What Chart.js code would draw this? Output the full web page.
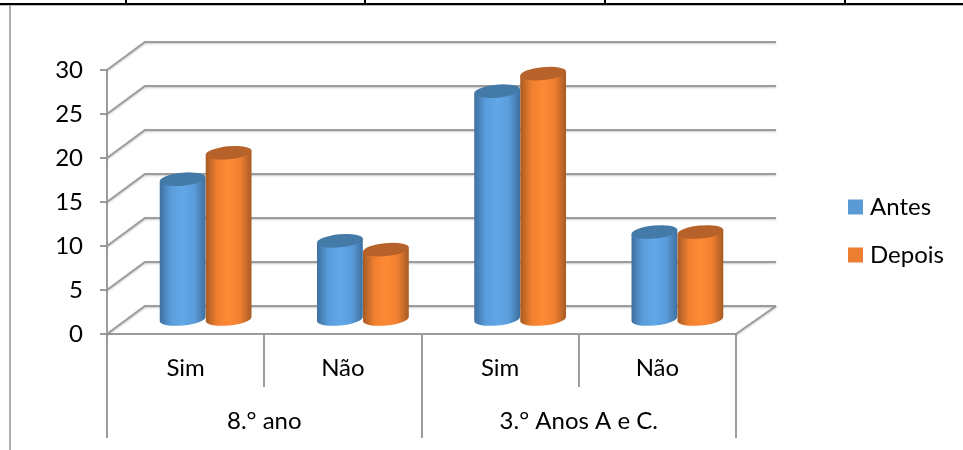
<!DOCTYPE html>
<html>
<head>
<meta charset="utf-8">
<style>
  html, body { margin: 0; padding: 0; background: #fff; overflow: hidden; }
  #wrap { position: relative; width: 963px; height: 450px; }
  #myChart { position: absolute; left: 0; top: 0; }
  .rule { position: absolute; }
</style>
</head>
<body>
<div id="wrap">
  <canvas id="myChart" width="963" height="450"></canvas>
  <!-- table borders around the chart -->
  <div class="rule" style="left:0;top:3px;width:963px;height:2px;background:#000"></div>
  <div class="rule" style="left:0;top:5px;width:963px;height:1px;background:#bdbdbd"></div>
  <div class="rule" style="left:125px;top:0;width:2px;height:4px;background:#000"></div>
  <div class="rule" style="left:364px;top:0;width:2px;height:4px;background:#000"></div>
  <div class="rule" style="left:604px;top:0;width:2px;height:4px;background:#000"></div>
  <div class="rule" style="left:844px;top:0;width:2px;height:4px;background:#000"></div>
  <div class="rule" style="left:9px;top:5px;width:2px;height:445px;background:#ababab"></div>
</div>
<script src="https://cdn.jsdelivr.net/npm/chart.js@4/dist/chart.umd.min.js"></script>
<script>
var categories = ['Sim', 'Não', 'Sim', 'Não'];
var groups = ['8.° ano', '3.° Anos A e C.'];
var antes = [16, 9, 26, 10];
var depois = [19, 8, 28, 10];
var seriesNames = ['Antes', 'Depois'];

var LINE = '#9c9c9c';
var FONT = "Lato, 'Open Sans', sans-serif";
var FONT_SIZE = 24;
var LEGEND_PADDING = 24;
var LEGEND_LEFT = 853;

// how far the back wall sits from the front plane
var DEPTH_X = 38, DEPTH_Y = 28;

// edge, mid, centre and lid shades of each cylinder
var SHADES = [
  { edge: '#3d709f', mid: '#5a9ddc', light: '#62a7e8', lid: '#447aa8' },
  { edge: '#a65a24', mid: '#f08030', light: '#ff8a35', lid: '#b6622a' }
];

function wallLine(ctx, points) {
  ctx.beginPath();
  ctx.moveTo(points[0][0], points[0][1]);
  for (var i = 1; i < points.length; i++) ctx.lineTo(points[i][0], points[i][1]);
  ctx.stroke();
}

function drawWalls(chart) {
  var ctx = chart.ctx, y = chart.scales.y, area = chart.chartArea;
  ctx.save();
  ctx.strokeStyle = LINE;
  ctx.lineWidth = 2;
  ctx.shadowColor = 'rgba(0,0,0,0.22)';
  ctx.shadowBlur = 2;
  ctx.shadowOffsetY = 1;
  y.ticks.forEach(function(t) {
    var py = y.getPixelForValue(t.value);
    wallLine(ctx, [
      [area.left, py],
      [area.left + DEPTH_X, py - DEPTH_Y],
      [area.right + DEPTH_X + 2, py - DEPTH_Y]
    ]);
  });
  // right edge of the floor
  wallLine(ctx, [[area.right, area.bottom], [area.right + DEPTH_X + 2, area.bottom - DEPTH_Y]]);
  ctx.restore();
}

function drawCylinder(ctx, bar, shade) {
  var rx = bar.width / 2;
  var ry = 6.5;
  var tilt = -5.5 * Math.PI / 180;
  var cx = bar.x + DEPTH_X / 2 + 1;
  var top = bar.y - DEPTH_Y / 2;
  var bottom = bar.base - DEPTH_Y / 2;
  var ex = rx * Math.cos(tilt), ey = rx * Math.sin(tilt);

  var g = ctx.createLinearGradient(cx - rx, 0, cx + rx, 0);
  g.addColorStop(0, shade.edge);
  g.addColorStop(0.25, shade.mid);
  g.addColorStop(0.5, shade.light);
  g.addColorStop(0.75, shade.mid);
  g.addColorStop(1, shade.edge);

  ctx.beginPath();
  ctx.moveTo(cx - ex, top - ey);
  ctx.lineTo(cx - ex, bottom - ey);
  ctx.ellipse(cx, bottom, rx, ry, tilt, Math.PI, 0, true);
  ctx.lineTo(cx + ex, top + ey);
  ctx.closePath();
  ctx.fillStyle = g;
  ctx.fill();

  ctx.beginPath();
  ctx.ellipse(cx, top, rx, ry, tilt, 0, Math.PI * 2);
  ctx.fillStyle = shade.lid;
  ctx.fill();
}

var cylinders = {
  id: 'cylinders',
  afterLayout: function(chart) {
    // the legend sits away from the plot and a little above its slot
    var l = chart.legend;
    var shift = LEGEND_LEFT - LEGEND_PADDING - l.left;
    l.left += shift; l.right += shift;
    l.top -= 23; l.bottom -= 23;
  },
  beforeDatasetsDraw: function(chart) {
    drawWalls(chart);
    // painted in series order so that Depois overlaps Antes
    chart.data.datasets.forEach(function(ds, i) {
      chart.getDatasetMeta(i).data.forEach(function(bar) {
        drawCylinder(chart.ctx, bar, SHADES[i]);
      });
    });
  },
  beforeDatasetDraw: function() {
    return false;
  }
};

var ctx = document.getElementById('myChart');
var myChart = new Chart(ctx, {
  type: 'bar',
  data: {
    labels: categories,
    datasets: [
      // small legend box with a thick border keeps its text close to the swatch
      { label: seriesNames[0], data: antes, backgroundColor: '#5b9bd5',
        borderColor: '#5b9bd5', borderWidth: 10,
        categoryPercentage: 0.585, barPercentage: 1 },
      { label: seriesNames[1], data: depois, backgroundColor: '#ed7d31',
        borderColor: '#ed7d31', borderWidth: 10,
        categoryPercentage: 0.585, barPercentage: 1 }
    ]
  },
  plugins: [cylinders],
  options: {
    responsive: false,
    animation: false,
    layout: { padding: { top: 70, bottom: 12, left: 0, right: 102 } },
    plugins: {
      tooltip: { enabled: false },
      title: { display: false },
      legend: {
        position: 'right',
        onClick: null,
        labels: {
          boxWidth: 5,
          boxHeight: 5,
          padding: LEGEND_PADDING,
          color: '#000',
          font: { family: FONT, size: FONT_SIZE }
        }
      }
    },
    scales: {
      y: {
        min: 0,
        max: 30,
        ticks: { stepSize: 5, padding: 17, color: '#000', font: { family: FONT, size: FONT_SIZE } },
        grid: { drawOnChartArea: false, tickLength: 7, color: LINE, lineWidth: 2 },
        border: { color: LINE, width: 2 },
        afterFit: function(s) { s.width = 107; }
      },
      x: {
        ticks: { padding: -33, color: '#000', font: { family: FONT, size: FONT_SIZE } },
        grid: { drawOnChartArea: false, offset: true, tickLength: 53, color: LINE, lineWidth: 2 },
        border: { color: LINE, width: 2 },
        afterFit: function(s) { s.height = 53; }
      },
      x2: {
        type: 'category',
        position: 'bottom',
        labels: groups,
        offset: true,
        ticks: { padding: -31, color: '#000', font: { family: FONT, size: FONT_SIZE } },
        grid: { drawOnChartArea: false, offset: true, tickLength: 51, color: LINE, lineWidth: 2 },
        border: { display: false },
        afterFit: function(s) { s.height = 51; }
      }
    }
  }
});
</script>
</body>
</html>
